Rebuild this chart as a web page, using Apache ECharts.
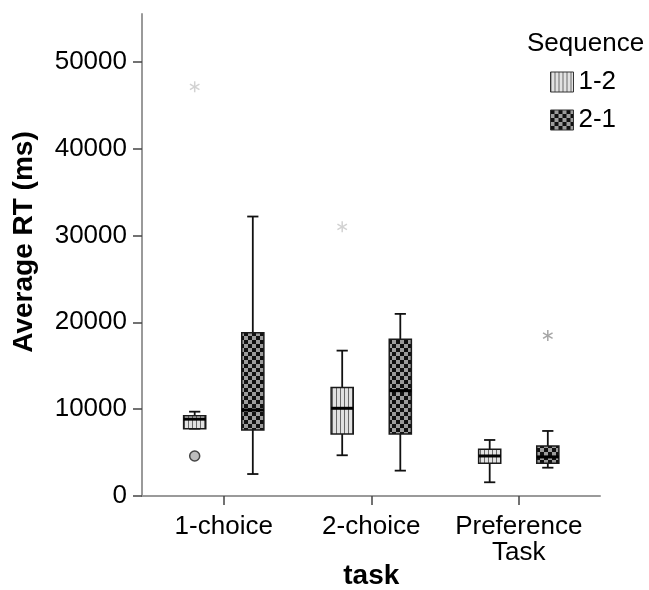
<!DOCTYPE html>
<html>
<head>
<meta charset="utf-8">
<title>Average RT by task</title>
<script src="https://cdn.jsdelivr.net/npm/echarts@6/dist/echarts.min.js"></script>
<style>
  html, body { margin: 0; padding: 0; background: #fff; }
  #chart { width: 649px; height: 590px; }
</style>
</head>
<body>
<div id="chart"></div>
<script>
// x axis categories
const tasks = ['1-choice', '2-choice', 'Preference\nTask']
const sequences = ['1-2', '2-1']
// box stats for each task: [min, Q1, median, Q3, max]
const box12 = [
  [7750, 7750, 8850, 9250, 9710],
  [4690, 7140, 10100, 12480, 16740],
  [1580, 3770, 4610, 5380, 6450]
]
const box21 = [
  [2530, 7600, 9900, 18810, 32180],
  [2920, 7140, 12130, 18050, 20970],
  [3260, 3770, 4500, 5760, 7490]
]
// outliers: [task index, value]
const circles12 = [[0, 4610]]
const stars12 = [[0, 47120], [1, 30990]]
const stars21 = [[2, 18470]]
const yTicks = [0, 10000, 20000, 30000, 40000, 50000]
const yMax = 55500

const font = '"Liberation Sans", Arial, sans-serif'

// fill patterns, vertical stripes and checkerboard
function stripePattern() {
  const c = document.createElement('canvas')
  c.width = 4
  c.height = 4
  const ctx = c.getContext('2d')
  ctx.fillStyle = '#e2e2e2'
  ctx.fillRect(0, 0, 4, 4)
  ctx.fillStyle = '#6a6a6a'
  ctx.fillRect(0, 0, 1, 4)
  return { image: c, repeat: 'repeat' }
}
function checkerPattern() {
  const c = document.createElement('canvas')
  c.width = 8
  c.height = 8
  const ctx = c.getContext('2d')
  ctx.fillStyle = '#9c9c9c'
  ctx.fillRect(0, 0, 8, 8)
  ctx.fillStyle = '#111'
  ctx.fillRect(0, 0, 4, 4)
  ctx.fillRect(4, 4, 4, 4)
  return { image: c, repeat: 'repeat' }
}
const fills = [stripePattern(), checkerPattern()]
const sides = [-1, 1]

// one box with whiskers, shifted left or right of the category centre
function boxRenderer(side, fill) {
  return function (params, api) {
    const cat = api.value(0)
    const band = api.size([1, 0])[0]
    const x = api.coord([cat, 0])[0] + side * band * 0.197
    const w = band * 0.15
    const cap = band * 0.038
    const y = (i) => api.coord([cat, api.value(i)])[1]
    const yMin = y(1), yQ1 = y(2), yMed = y(3), yQ3 = y(4), yTop = y(5)
    const line = { stroke: '#111', lineWidth: 1.8 }
    return {
      type: 'group',
      children: [
        { type: 'line', shape: { x1: x, y1: yTop, x2: x, y2: yQ3 }, style: line },
        { type: 'line', shape: { x1: x, y1: yQ1, x2: x, y2: yMin }, style: line },
        { type: 'line', shape: { x1: x - cap, y1: yTop, x2: x + cap, y2: yTop }, style: line },
        { type: 'line', shape: { x1: x - cap, y1: yMin, x2: x + cap, y2: yMin }, style: line },
        {
          type: 'rect',
          shape: { x: x - w / 2, y: yQ3, width: w, height: yQ1 - yQ3 },
          style: { fill: fill, stroke: '#1a1a1a', lineWidth: 1.5 }
        },
        {
          type: 'line',
          shape: { x1: x - w / 2, y1: yMed, x2: x + w / 2, y2: yMed },
          style: { stroke: '#000', lineWidth: 3 }
        }
      ]
    }
  }
}

// outlier circle or extreme star
function outlierRenderer(side, kind, color) {
  return function (params, api) {
    const cat = api.value(0)
    const band = api.size([1, 0])[0]
    const p = api.coord([cat, api.value(1)])
    const x = p[0] + side * band * 0.197
    const y = p[1]
    if (kind === 'circle') {
      return {
        type: 'circle',
        shape: { cx: x, cy: y, r: 5 },
        style: { fill: '#bdbdbd', stroke: '#444', lineWidth: 1.5 }
      }
    }
    const r = 5.5
    const arms = [90, 30, 150].map((deg) => {
      const a = deg * Math.PI / 180
      return {
        type: 'line',
        shape: { x1: x - r * Math.cos(a), y1: y - r * Math.sin(a), x2: x + r * Math.cos(a), y2: y + r * Math.sin(a) },
        style: { stroke: color, lineWidth: 1.5 }
      }
    })
    return { type: 'group', children: arms }
  }
}

const chart = echarts.init(document.getElementById('chart'))

const boxSeries = [box12, box21].map((boxes, s) => ({
  name: sequences[s],
  type: 'custom',
  xAxisIndex: 1,
  yAxisIndex: 1,
  itemStyle: { color: fills[s], borderColor: '#333', borderWidth: 1 },
  renderItem: boxRenderer(sides[s], fills[s]),
  encode: { x: 0, y: [1, 2, 3, 4, 5] },
  data: boxes.map((b, i) => [i].concat(b))
}))

const outlierSeries = [
  { data: circles12, side: -1, kind: 'circle', color: '#444' },
  { data: stars12, side: -1, kind: 'star', color: '#d2d2d2' },
  { data: stars21, side: 1, kind: 'star', color: '#a6a6a6' }
].map((o) => ({
  type: 'custom',
  xAxisIndex: 1,
  yAxisIndex: 1,
  renderItem: outlierRenderer(o.side, o.kind, o.color),
  encode: { x: 0, y: 1 },
  data: o.data
}))

const option = {
  animation: false,
  backgroundColor: '#fff',
  textStyle: { fontFamily: font, color: '#000' },
  title: {
    text: 'Sequence',
    left: 527,
    top: 31,
    padding: 0,
    textStyle: { fontFamily: font, fontSize: 26, fontWeight: 'normal', color: '#000' }
  },
  legend: {
    orient: 'vertical',
    left: 550,
    top: 69,
    itemWidth: 23,
    itemHeight: 20,
    itemGap: 12,
    padding: 0,
    selectedMode: false,
    textStyle: { fontFamily: font, fontSize: 26, color: '#000' },
    data: sequences.map((name, s) => ({
      name: name,
      icon: 'rect',
      itemStyle: { color: fills[s], borderColor: '#333', borderWidth: 1 }
    }))
  },
  grid: [
    // frame for the axis lines
    { left: 142, right: 49, top: 14, bottom: 94, outerBoundsMode: 'none' },
    // plotting area for the categories
    { left: 150, right: 56.5, top: 14, bottom: 94, outerBoundsMode: 'none' }
  ],
  xAxis: [
    {
      gridIndex: 0,
      type: 'value',
      min: 0,
      max: 1,
      axisLine: { show: true, lineStyle: { color: '#9a9a9a', width: 2 } },
      axisTick: { show: false },
      axisLabel: { show: false },
      splitLine: { show: false }
    },
    {
      gridIndex: 1,
      type: 'category',
      data: tasks,
      name: 'task',
      nameLocation: 'middle',
      nameGap: 66,
      nameMoveOverlap: false,
      nameTextStyle: { fontFamily: font, fontSize: 28, fontWeight: 'bold', color: '#000' },
      axisLine: { show: true, lineStyle: { color: 'rgba(0,0,0,0)' } },
      axisTick: { show: true, alignWithLabel: true, length: 9, lineStyle: { color: '#444', width: 1.5 } },
      axisLabel: { fontFamily: font, fontSize: 26, lineHeight: 26, color: '#000', margin: 18, interval: 0 },
      splitLine: { show: false }
    }
  ],
  yAxis: [
    {
      gridIndex: 0,
      type: 'value',
      min: 0,
      max: yMax,
      name: 'Average RT (ms)',
      nameLocation: 'middle',
      nameGap: 104,
      nameMoveOverlap: false,
      nameTextStyle: { fontFamily: font, fontSize: 28, fontWeight: 'bold', color: '#000', padding: [0, 0, 0, 26] },
      axisLine: { show: true, lineStyle: { color: '#9a9a9a', width: 2 } },
      axisTick: { show: true, length: 9, customValues: yTicks, lineStyle: { color: '#444', width: 1.5 } },
      axisLabel: {
        fontFamily: font,
        fontSize: 26,
        color: '#000',
        margin: 15,
        customValues: yTicks,
        formatter: (v) => String(v)
      },
      splitLine: { show: false }
    },
    {
      gridIndex: 1,
      type: 'value',
      min: 0,
      max: yMax,
      show: false
    }
  ],
  series: boxSeries.concat(outlierSeries)
}

chart.setOption(option)
</script>
</body>
</html>
